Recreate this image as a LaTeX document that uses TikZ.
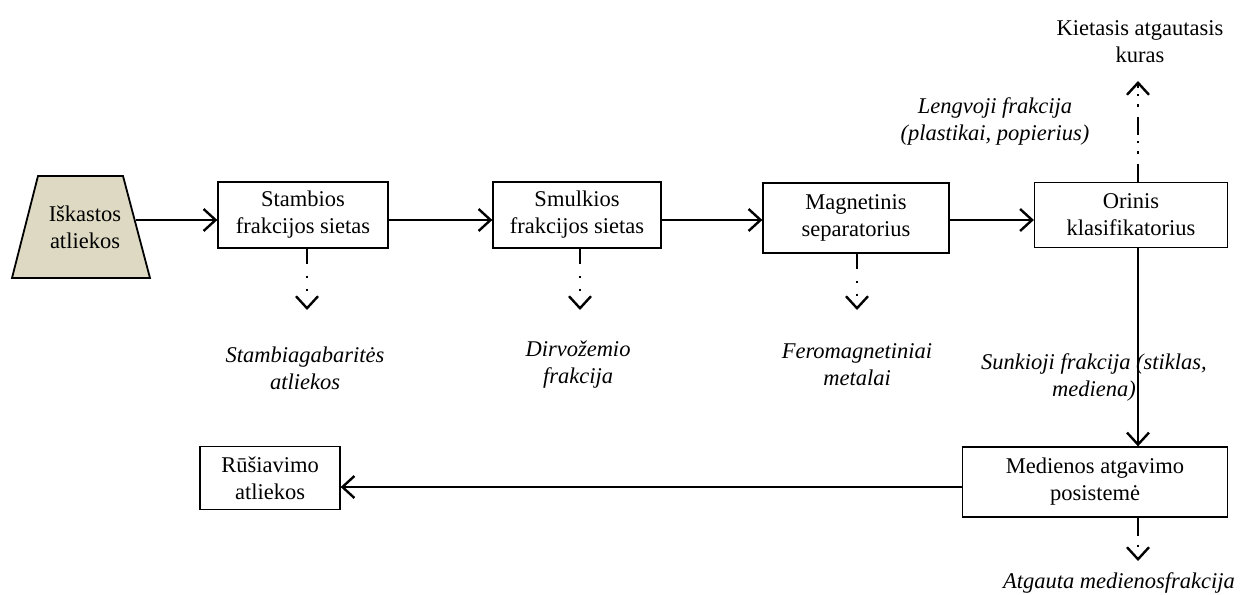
\documentclass[tikz,border=0pt]{standalone}
\usepackage{fontspec}
\setmainfont{Liberation Serif}
\usepackage{tikz}
\usetikzlibrary{arrows.meta, positioning, calc}
\definecolor{srcfill}{RGB}{221,217,195}

\begin{document}
\begin{tikzpicture}[x=1pt, y=-1pt, every node/.style={font=\fontsize{22.5}{27}\selectfont}]
			\tikzstyle{stage}=[draw=black, line width=1.3pt, align=center, inner sep=2pt]
			\tikzstyle{source}=[draw=black, line width=1.8pt, fill=srcfill, line join=miter]
			\tikzstyle{flow}=[line width=2pt, -{Straight Barb[length=12pt, width=22pt, line width=2.4pt]}]
			\tikzstyle{side}=[flow, dash pattern=on 15pt off 12pt on 2.5pt off 10.5pt on 2.5pt off 40pt]
			\tikzstyle{sideup}=[flow, dash pattern=on 18pt off 10pt on 2.5pt off 8pt on 2.5pt off 6pt]
			\tikzstyle{note}=[align=center, font=\fontsize{22.5}{27}\selectfont\itshape]
			
			\useasboundingbox (0,0) rectangle (1249,594);
			
			%% source trapezoid
			\draw [source] (38,176) -- (123,176) -- (150,278) -- (12,278) -- cycle;
			\node (b0) at (85,227) [align=center] {Iškastos\\atliekos};
			\coordinate (b0e) at (136,220);
			
			\node (b1) at (303,215) [stage, minimum width=170pt, minimum height=66pt] {Stambios\\frakcijos sietas};
			\node (b2) at (577,215) [stage, minimum width=168pt, minimum height=66pt] {Smulkios\\frakcijos sietas};
			\node (b3) at (856,218) [stage, minimum width=186pt, minimum height=70pt] {Magnetinis\\separatorius};
			\node (b4) at (1131,215) [stage, minimum width=193pt, minimum height=65pt] {Orinis\\klasifikatorius};
			\node (b5) at (1095,482) [stage, minimum width=265pt, minimum height=70pt] {Medienos atgavimo\\posistemė};
			\node (b6) at (270,478) [stage, minimum width=140pt, minimum height=63pt] {Rūšiavimo\\atliekos};
			
			\draw [flow] (b0e) -- (b0e -| b1.west);
			\draw [flow] (b0e -| b1.east) -- (b0e -| b2.west);
			\draw [flow] (b0e -| b2.east) -- (b0e -| b3.west);
			\draw [flow] (b0e -| b3.east) -- (b0e -| b4.west);
			
			%% side outputs
			\coordinate (d1) at (307,310);
			\coordinate (d2) at (580,310);
			\coordinate (d3) at (857,310);
			\coordinate (u4) at (1138,81);
			\coordinate (d5) at (1138,561);
			
			\draw [side] (b1.south -| d1) -- (d1);
			\draw [side] (b2.south -| d2) -- (d2);
			\draw [side] (b3.south -| d3) -- (d3);
			\draw [sideup] (b4.north -| u4) -- (u4);
			\draw [flow] (b4.south -| u4) -- (b5.north -| u4);
			\draw [flow] ([yshift=-5pt]b5.west) -- ([yshift=-5pt]b5.west -| b6.east);
			\draw [side, dash pattern=on 18pt off 9pt on 2.5pt off 30pt] (b5.south -| d5) -- (d5);
			
			\node (l1) at (305,368) [note] {Stambiagabaritės\\atliekos};
			\node (l2) at (578,365) [note] {Dirvožemio\\frakcija};
			\node (l3) at (857,365) [note] {Feromagnetiniai\\metalai};
			\node (l4) at (1140,42) [align=center] {Kietasis atgautasis\\kuras};
			\node (l5) at (995,121) [note] {Lengvoji frakcija\\(plastikai, popierius)};
			\node (l6) at (1094,377) [note] {Sunkioji frakcija (stiklas,\\mediena)};
			\node (l7) at (1119,583) [note] {Atgauta medienosfrakcija};
\end{tikzpicture}
\end{document}
